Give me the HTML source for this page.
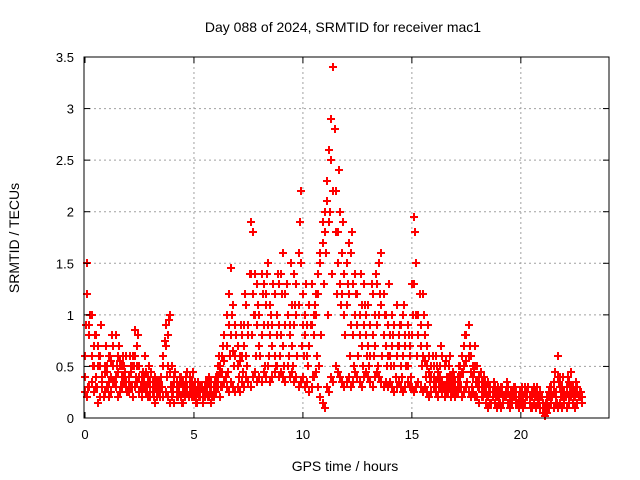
<!DOCTYPE html>
<html><head><meta charset="utf-8"><style>
html,body{margin:0;padding:0;background:#fff;}
svg{display:block;font-family:"Liberation Sans",sans-serif;}
</style></head><body>
<svg id="chart" width="640" height="480" viewBox="0 0 640 480" xmlns="http://www.w3.org/2000/svg">
<rect width="640" height="480" fill="#fff"/>
<g id="grid"></g>
<g id="points" shape-rendering="crispEdges"></g>
<g id="axes"></g>
<text x="343" y="32" font-size="14" text-anchor="middle">Day 088 of 2024, SRMTID for receiver mac1</text>
<text x="345" y="471" font-size="14" text-anchor="middle">GPS time / hours</text>
<text x="0" y="0" font-size="14" text-anchor="middle" transform="translate(19,238) rotate(-90)">SRMTID / TECUs</text>
</svg>
<script>
const xTicks=[0,5,10,15,20];
const yTicks=[0,0.5,1,1.5,2,2.5,3,3.5];
const yTickLabels=["0","0.5","1","1.5","2","2.5","3","3.5"];
const tStart=0, tStep=0.1, tStartD=0.05;
const seriesA=[.25,.2,.3,.35,.25,.3,.15,.2,.3,.25,.3,.2,.25,.35,.3,.2,.25,.3,.35,.3,.25,.3,.2,.3,.35,.25,.2,.3,.25,.2,.2,.25,.15,.2,.25,.3,.2,.25,.2,.15,.2,.15,.2,.25,.2,.15,.2,.25,.3,.2,.2,.15,.25,.2,.15,.2,.25,.2,.15,.2,.25,.3,.2,.3,.35,.3,.25,.35,.3,.25,.3,.25,.35,.3,.4,.35,.3,.4,.45,.35,.4,.35,.45,.4,.5,.35,.4,.45,.5,.4,.45,.4,.35,.5,.4,.45,.35,.4,.3,.35,.4,.3,.35,.25,.3,.4,.45,.3,.2,.15,.1,.3,.25,.4,.35,.5,.45,.4,.35,.3,.35,.4,.3,.35,.45,.4,.35,.3,.4,.45,.4,.35,.3,.4,.45,.4,.35,.3,.35,.3,.35,.3,.25,.3,.35,.3,.25,.3,.35,.3,.3,.25,.3,.35,.3,.25,.3,.25,.2,.25,.3,.25,.2,.3,.25,.2,.25,.3,.2,.25,.2,.25,.3,.2,.25,.3,.25,.2,.25,.2,.2,.15,.2,.25,.15,.1,.15,.2,.15,.1,.15,.1,.15,.2,.15,.1,.15,.2,.15,.1,.15,.1,.15,.2,.15,.1,.15,.1,.15,.1,.05,.02,.05,.1,.15,.1,.15,.1,.15,.1,.15,.1,.15,.2,.15,.1,.15,.2,.15];
const seriesB=[.6,1.5,.9,1.0,.7,.8,.5,.6,.4,.5,.5,.6,.4,.7,.8,.6,.5,.4,.5,.6,.4,.5,.6,.85,.7,.5,.4,.35,.3,.4,.35,.3,.4,.35,.3,.4,.5,.9,.8,1.0,.5,.4,.35,.3,.4,.35,.3,.45,.4,.35,.3,.25,.35,.3,.25,.3,.35,.4,.35,.3,.4,.5,.45,.6,.8,1.0,1.2,1.45,1.1,.9,.7,.6,.8,.9,1.1,.8,1.9,1.8,1.4,1.3,1.0,1.4,1.3,1.2,1.5,1.1,.9,1.2,1.0,1.3,1.4,1.6,1.2,1.0,.9,1.1,1.4,1.3,1.6,2.2,1.2,1.0,.9,1.1,1.3,1.0,1.2,1.4,1.6,1.9,2.0,2.3,2.6,2.9,3.4,2.2,1.8,2.0,1.6,1.4,1.5,1.7,1.6,1.3,1.4,1.2,1.0,1.1,1.3,1.0,1.1,.9,1.2,1.0,1.3,1.5,1.6,1.2,1.0,.9,.8,1.0,.9,1.1,.8,.9,1.0,.8,.9,.7,1.3,1.95,1.5,1.0,.9,1.2,.8,.7,.6,.5,.5,.6,.4,.5,.6,.5,.4,.5,.4,.45,.35,.4,.5,.6,.7,.8,.9,.6,.5,.7,.5,.4,.35,.4,.3,.35,.3,.25,.3,.25,.25,.3,.2,.25,.3,.2,.25,.3,.25,.2,.25,.2,.3,.25,.2,.25,.3,.25,.2,.25,.15,.1,.2,.25,.3,.35,.25,.6,.4,.3,.25,.3,.35,.45,.3,.25,.3,.25,.2];
const seriesC=[.4,1.2,.8,.6,.5,.4,.7,.5,.35,.45,.45,.35,.55,.5,.4,.45,.55,.5,.4,.35,.35,.45,.5,.6,.5,.4,.3,.4,.45,.35,.3,.35,.3,.25,.35,.4,.6,.7,.5,.45,.3,.35,.25,.3,.35,.25,.2,.3,.35,.3,.25,.2,.3,.25,.2,.25,.3,.35,.25,.2,.35,.4,.5,.45,.55,.7,.9,.8,.65,.6,.5,.55,.6,.7,.6,.9,1.4,1.2,1.0,.9,.7,.8,.9,1.1,.9,.8,.7,.6,.8,.9,.8,.7,.9,1.0,.8,.7,.9,1.0,1.1,1.5,.9,.8,.6,.7,.9,.8,1.0,1.2,1.5,1.7,1.8,2.1,1.9,2.5,2.2,1.8,1.5,1.3,1.2,1.0,1.1,1.2,.9,.8,1.0,.9,.8,.7,.9,.8,.7,.6,.8,.7,.9,1.0,1.1,.8,.7,.6,.6,.7,.5,.6,.7,.5,.6,.7,.5,.6,.8,1.3,1.0,.8,.7,.6,.55,.5,.45,.4,.4,.35,.45,.4,.35,.3,.35,.4,.3,.35,.3,.35,.4,.45,.5,.55,.6,.45,.4,.5,.35,.3,.25,.3,.25,.2,.25,.2,.25,.2,.2,.25,.15,.2,.25,.15,.2,.25,.2,.15,.2,.15,.25,.2,.15,.2,.25,.2,.15,.2,.1,.05,.15,.2,.2,.25,.2,.4,.3,.2,.2,.25,.2,.3,.25,.2,.25,.2,.15];
const seriesD=[.9,.3,1.0,.5,.8,.3,.6,.9,.2,.7,.3,.6,.8,.35,.5,.7,.3,.6,.45,.25,.6,.3,.5,.4,.8,.3,.45,.6,.25,.5,.45,.2,.35,.3,.2,.3,.75,.4,.95,.3,.25,.45,.2,.4,.15,.3,.4,.2,.25,.45,.35,.15,.2,.3,.2,.35,.2,.3,.2,.35,.3,.6,.3,.7,.4,.45,.6,1.0,.5,.8,.4,.9,.45,1.2,.5,1.4,.8,1.0,.6,1.1,.6,1.2,.5,1.4,.6,1.0,1.3,.5,1.4,.6,1.2,.5,1.3,.6,1.5,.5,1.1,.6,1.9,.7,.6,1.3,.5,.9,.4,1.1,.6,.5,.8,1.3,1.6,1.0,2.0,1.4,2.8,1.2,2.4,1.1,1.9,.8,1.3,.6,1.8,.5,1.2,.6,1.4,.5,1.1,.6,.5,1.3,.6,1.4,.5,1.2,.6,1.0,.5,1.3,.5,.8,.4,.7,.9,.4,1.1,.5,.8,.4,1.0,1.8,.6,1.2,.5,1.0,.4,.9,.35,.6,.3,.5,.3,.7,.3,.55,.25,.6,.3,.4,.25,.5,.3,.45,.8,.35,.7,.3,.45,.35,.3,.45,.2,.35,.2,.3,.15,.35,.2,.3,.15,.3,.2,.35,.15,.25,.2,.3,.15,.25,.3,.15,.2,.3,.1,.25,.2,.3,.15,.2,.05,.15,.1,.3,.2,.45,.15,.35,.2,.4,.2,.4,.25,.3,.2,.35,.2,.25];
const NS="http://www.w3.org/2000/svg";
const L=84,R=609,T=57,B=418,X0=85,XMAX=24,YMAX=3.5;
function xs(v){return X0+(v/XMAX)*(608-X0);}
function ys(v){return B-(v/YMAX)*(B-T);}
function mk(tag,attrs,parent){const e=document.createElementNS(NS,tag);for(const k in attrs)e.setAttribute(k,attrs[k]);parent.appendChild(e);return e;}
const grid=document.getElementById('grid'),axes=document.getElementById('axes'),pts=document.getElementById('points');
xTicks.forEach(t=>{
  const x=xs(t);
  if(t>0){const g=mk('line',{x1:x,x2:x,y1:T,y2:B,stroke:'#a0a0a0','stroke-dasharray':'2,3'},grid);
  
  }
  mk('line',{x1:x,x2:x,y1:B,y2:B-6,stroke:'#000'},axes);
  mk('line',{x1:x,x2:x,y1:T,y2:T+6,stroke:'#000'},axes);
  const tx=mk('text',{x:x,y:B+21,'font-size':13,'text-anchor':'middle'},axes);
  tx.textContent=String(t);
  
  
});
yTicks.forEach((t,i)=>{
  const y=ys(t);
  if(t>0&&t<YMAX){const g=mk('line',{x1:L,x2:R,y1:y,y2:y,stroke:'#a0a0a0','stroke-dasharray':'2,3'},grid);
  
  }
  mk('line',{x1:L,x2:L+6,y1:y,y2:y,stroke:'#000'},axes);
  mk('line',{x1:R,x2:R-6,y1:y,y2:y,stroke:'#000'},axes);
  const tx=mk('text',{x:L-10,y:y+5,'font-size':13,'text-anchor':'end'},axes);
  tx.textContent=yTickLabels[i];
  
  
});
const frame=mk('rect',{x:L,y:T,width:R-L,height:B-T,fill:'none',stroke:'#000'},axes);


function plus(x,y){
  const p=mk('path',{d:`M${x-4},${y}h8M${x},${y-4}v8`,stroke:'#ff0000','stroke-width':2,fill:'none'},pts);
  
  
}
[seriesA,seriesB,seriesC].forEach(s=>{
  s.forEach((v,i)=>{plus(Math.round(xs(tStart+i*tStep)),Math.round(ys(v)));});
});
seriesD.forEach((v,i)=>{plus(Math.round(xs(tStartD+i*tStep)),Math.round(ys(v)));});
</script>
</body></html>
